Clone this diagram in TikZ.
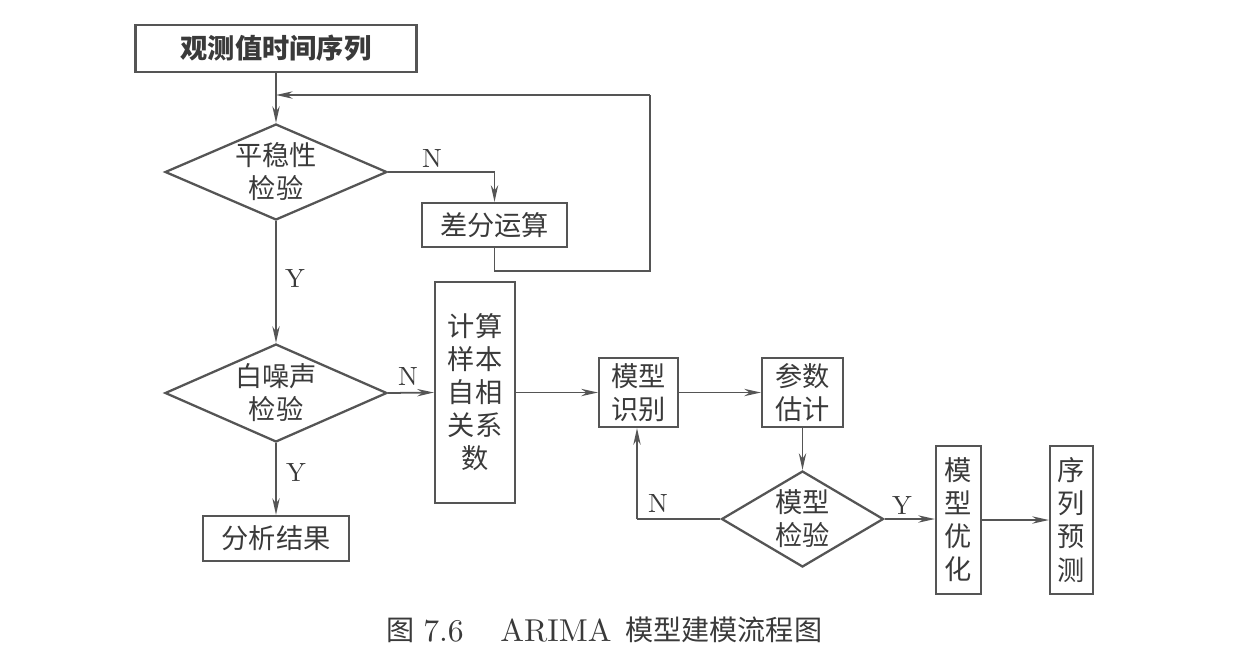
\documentclass[tikz,border=0pt]{standalone}
\usepackage{fontspec}
\usetikzlibrary{arrows.meta,shapes.geometric}
\newfontfamily\cjk{Noto Sans CJK SC}
\newfontfamily\lmten{lmroman10-regular}[Extension=.otf]
\definecolor{ln}{HTML}{555555}
\definecolor{tx}{HTML}{3A3A3A}
\tikzset{
  box/.style={draw=ln, line width=1.3pt, inner sep=0pt, align=center, text=tx,
    font=\cjk\fontsize{15.5pt}{18.8pt}\selectfont},
  dia/.style={diamond, draw=ln, line width=1.3pt, inner sep=0pt, align=center, text=tx,
    font=\cjk\fontsize{15.5pt}{18.8pt}\selectfont},
  arr/.style={draw=ln, line width=1pt, -{Stealth[length=9.5pt,width=4.2pt]}},
  lin/.style={draw=ln, line width=1pt},
  lab/.style={text=tx, font=\lmten\fontsize{15pt}{18pt}\selectfont, inner sep=0pt},
  captext/.style={text=tx, anchor=west, inner sep=0pt}
}
\begin{document}
\begin{tikzpicture}[x=0.02cm,y=-0.02cm]
\useasboundingbox (0,0) rectangle (1250,670);
% nodes
\node[box, minimum width=5.62cm, minimum height=0.94cm, font=\cjk\bfseries\fontsize{15.5pt}{18pt}\selectfont] (top) at (276,48.5) {观测值时间序列};
\node[dia, minimum width=4.44cm, minimum height=1.92cm, aspect=2.3] (d1) at (276,172) {平稳性\\检验};
\node[box, minimum width=2.9cm, minimum height=0.88cm] (diff) at (494.5,225) {差分运算};
\node[dia, minimum width=4.44cm, minimum height=1.96cm, aspect=2.3] (d2) at (276,393) {白噪声\\检验};
\node[box, minimum width=2.92cm, minimum height=0.9cm] (res) at (276,538.5) {分析结果};
\node[box, minimum width=1.6cm, minimum height=4.42cm] (calc) at (475,392.5) {计算\\样本\\自相\\关系\\数};
\node[box, minimum width=1.58cm, minimum height=1.38cm] (ident) at (638.5,392.5) {模型\\识别};
\node[box, minimum width=1.62cm, minimum height=1.38cm] (param) at (802.5,392.5) {参数\\估计};
\node[dia, minimum width=3.24cm, minimum height=1.92cm, aspect=1.69] (d3) at (802.5,519) {模型\\检验};
\node[box, minimum width=0.9cm, minimum height=2.96cm] (opt) at (958.5,520) {模\\型\\优\\化};
\node[box, minimum width=0.86cm, minimum height=2.96cm] (pred) at (1071.5,520) {序\\列\\预\\测};
% coordinates
\coordinate (fbin) at (276,95);
\coordinate (fb1) at (494.5,271);
\coordinate (fb2) at (650,271);
\coordinate (fb3) at (650,95);
\coordinate (nl) at (637,519);
% connectors
\draw[arr] (top.south) -- (d1.north);
\draw[arr] (d1.east) -| (diff.north);
\draw[lin] (diff.south) -- (fb1) -- (fb2) -- (fb3);
\draw[arr] (fb3) -- (fbin);
\draw[arr] (d1.south) -- (d2.north);
\draw[arr] (d2.east) -- (calc.west);
\draw[arr] (d2.south) -- (res.north);
\draw[arr] (calc.east) -- (ident.west);
\draw[arr] (ident.east) -- (param.west);
\draw[arr] (param.south) -- (d3.north);
\draw[lin] (d3.west) -- (nl);
\draw[arr] (nl) -- (nl |- ident.south);
\draw[arr] (d3.east) -- (opt.west |- d3.east);
\draw[arr] (opt.east) -- (pred.west);
% labels
\node[lab] (n1) at (432,158) {N};
\node[lab] (y1) at (295,278) {Y};
\node[lab] (n2) at (408,376) {N};
\node[lab] (y2) at (296,472) {Y};
\node[lab] (n3) at (658,503) {N};
\node[lab] (y3) at (902,505) {Y};
% caption
\node[captext, font=\cjk\fontsize{16pt}{18pt}\selectfont] (c1) at (386,630) {图};
\node[captext, font=\lmten\fontsize{18pt}{20pt}\selectfont] (c2) at (423,631) {7.6};
\node[captext, font=\lmten\fontsize{18pt}{20pt}\selectfont] (c3) at (500,631) {ARIMA};
\node[captext, font=\cjk\fontsize{16pt}{18pt}\selectfont] (c4) at (625,630) {模型建模流程图};
\end{tikzpicture}
\end{document}
